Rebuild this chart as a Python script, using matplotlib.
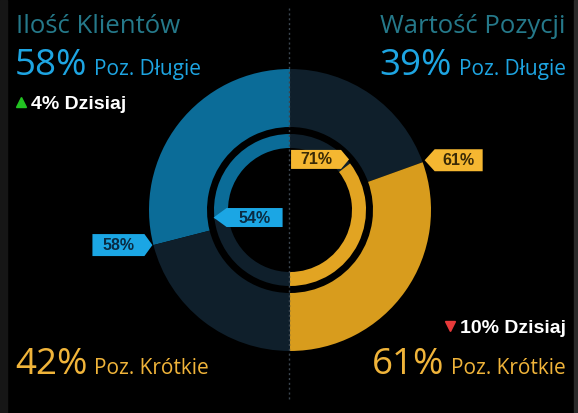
import numpy as np
import matplotlib
matplotlib.use("Agg")
import matplotlib.pyplot as plt
from matplotlib.patches import Polygon

# Data
titles = ["Ilość Klientów", "Wartość Pozycji"]
clients_outer = [58, 42]      # long, short (%)
clients_inner = [54, 46]
values_outer = [39, 61]       # long, short (%)
values_inner = [29, 71]
today_change = [4, -10]
long_label = "Poz. Długie"
short_label = "Poz. Krótkie"

# Colours
BG = "#000000"
BLUE = "#0b6c98"
BLUE_TAG = "#1ba6e4"
BLUE_TXT = "#1ea5e2"
GOLD = "#d89c1d"
GOLD_IN = "#e2a422"
GOLD_TAG = "#f5b731"
GOLD_TXT = "#f0b43a"
TRACK = "#0f1f2b"
TITLE = "#25798a"
CLEAR = (0, 0, 0, 0)

W, H = 578, 413
CX, CY = 290, 203
R_OUT, W_OUT = 141, 58
R_IN, W_IN = 76, 14

BIG, SMALL, TODAY = 26.5, 15, 14

plt.rcParams['font.family'] = ['Open Sans', 'DejaVu Sans']

fig = plt.figure(figsize=(W / 100, H / 100), dpi=100, facecolor=BG)
ax = fig.add_axes([0, 0, 1, 1])
ax.set_facecolor(BG)
ax.set_xlim(0, W)
ax.set_ylim(0, H)
renderer = fig.canvas.get_renderer()


def py(y):
    # pixel row (from top) -> data y
    return H - y


def width_of(t):
    return t.get_window_extent(renderer=renderer).width


def draw_tag(x, y, text, direction, face, tcolor, height=20, width=50, tip=9):
    """Tag shaped label whose point sits at (x, y). direction: +1 body right, -1 body left."""
    d = direction
    pts = [(x, y), (x + d * tip, y + height / 2), (x + d * (tip + width), y + height / 2),
           (x + d * (tip + width), y - height / 2), (x + d * tip, y - height / 2)]
    ax.add_patch(Polygon(pts, closed=True, facecolor=face, edgecolor='none', zorder=5))
    ax.text(x + d * (tip + width / 2), y - 0.5, text, color=tcolor, fontsize=11.5,
            family=['Liberation Sans'], weight='bold', ha='center', va='center', zorder=6)


# Left half: clients (counter-clockwise from top)
ax.pie(clients_outer + [100], startangle=90, counterclock=True,
       colors=[BLUE, TRACK, CLEAR], radius=R_OUT, center=(CX, CY),
       wedgeprops=dict(width=W_OUT, linewidth=0))
ax.pie(clients_inner + [100], startangle=90, counterclock=True,
       colors=[BLUE, TRACK, CLEAR], radius=R_IN, center=(CX, CY),
       wedgeprops=dict(width=W_IN, linewidth=0))

# Right half: position value (clockwise from top)
ax.pie(values_outer + [100], startangle=90, counterclock=False,
       colors=[TRACK, GOLD, CLEAR], radius=R_OUT, center=(CX, CY),
       wedgeprops=dict(width=W_OUT, linewidth=0))
ax.pie(values_inner + [100], startangle=90, counterclock=False,
       colors=[TRACK, GOLD_IN, CLEAR], radius=R_IN, center=(CX, CY),
       wedgeprops=dict(width=W_IN, linewidth=0))


def boundary(frac, r, side):
    ang = np.deg2rad(90 + side * frac * 180)
    return CX + r * np.cos(ang), CY + r * np.sin(ang)


# tags at the segment boundaries
x, y = boundary(clients_outer[0] / 100, R_OUT, 1)
draw_tag(x - 1, y, f"{clients_outer[0]}%", -1, BLUE_TAG, "#0a2b42", height=22, width=52, tip=8)
x, y = boundary(clients_inner[0] / 100, R_IN, 1)
draw_tag(x - 1, y + 2, f"{clients_inner[0]}%", 1, BLUE_TAG, "#0a2b42", height=19, width=56, tip=13)
x, y = boundary(values_inner[0] / 100, R_IN, -1)
draw_tag(x - 1, y + 4, f"{values_inner[1]}%", -1, GOLD_TAG, "#3a2a06", height=19, width=50, tip=8)
x, y = boundary(values_outer[0] / 100, R_OUT, -1)
draw_tag(x + 2, y + 2, f"{values_outer[1]}%", 1, GOLD_TAG, "#3a2a06", height=22, width=48, tip=10)

# centre divider
ax.plot([CX - 1, CX - 1], [py(8), py(400)], color="#3b4650", lw=1, ls=(0, (1.5, 2)), zorder=7)

# side borders
ax.axvspan(0, 7, color="#161616", zorder=0)
ax.axvspan(574, W, color="#2a2a2a", zorder=0)


def left_pair(value, label, color, base):
    t = ax.text(15, py(base), f"{value}%", color=color, fontsize=BIG, ha='left', va='baseline')
    ax.text(15 + width_of(t) + 7, py(base), label, color=color, fontsize=SMALL,
            ha='left', va='baseline')


def right_pair(value, label, color, base):
    t = ax.text(566, py(base), label, color=color, fontsize=SMALL, ha='right', va='baseline')
    ax.text(566 - width_of(t) - 7, py(base), f"{value}%", color=color, fontsize=BIG,
            ha='right', va='baseline')


# Left texts
ax.text(16, py(33), titles[0], color=TITLE, fontsize=18.5, ha='left', va='baseline')
left_pair(clients_outer[0], long_label, BLUE_TXT, 75)
ax.plot([20.5], [py(101.5)], marker='^', color="#22c322", markersize=7, ls='none')
ax.text(31, py(109), f"{today_change[0]}% Dzisiaj", color="white", fontsize=TODAY,
        family=['Liberation Sans'], weight='bold', ha='left', va='baseline')
left_pair(clients_outer[1], short_label, GOLD_TXT, 374)

# Right texts
ax.text(566, py(33), titles[1], color=TITLE, fontsize=18.5, ha='right', va='baseline')
right_pair(values_outer[0], long_label, BLUE_TXT, 75)
t = ax.text(566, py(333), f"{abs(today_change[1])}% Dzisiaj", color="white", fontsize=TODAY,
            family=['Liberation Sans'], weight='bold', ha='right', va='baseline')
ax.plot([566 - width_of(t) - 10], [py(326)], marker='v', color="#e83a3a", markersize=7, ls='none')
right_pair(values_outer[1], short_label, GOLD_TXT, 374)

ax.set_xlim(0, W)
ax.set_ylim(0, H)
ax.set_aspect('auto')
ax.axis('off')

fig.savefig("out.png", dpi=100, facecolor=BG)
